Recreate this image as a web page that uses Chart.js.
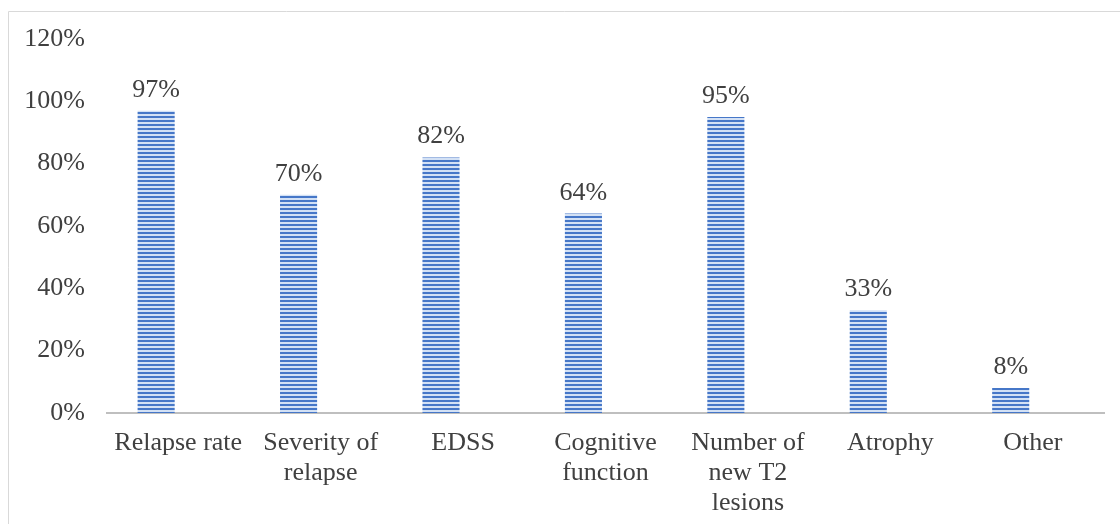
<!DOCTYPE html>
<html>
<head>
<meta charset="utf-8">
<script src="https://cdn.jsdelivr.net/npm/chart.js@4/dist/chart.umd.min.js"></script>
<style>
  html, body { margin: 0; padding: 0; background: #ffffff; }
  #wrap { position: relative; width: 1120px; height: 524px; }
  canvas { display: block; }
</style>
</head>
<body>
<div id="wrap"><canvas id="c" width="1120" height="524"></canvas></div>
<script>
// Outcome measures and share of respondents choosing each
const categories = [
  'Relapse rate',
  ['Severity of', 'relapse'],
  'EDSS',
  ['Cognitive', 'function'],
  ['Number of', 'new T2', 'lesions'],
  'Atrophy',
  'Other'
];
const shares = [97, 70, 82, 64, 95, 33, 8];
const yTicks = [0, 20, 40, 60, 80, 100, 120];

const FONT = "'Liberation Serif', 'Times New Roman', serif";
const TEXT = '#404040';

// Horizontal pinstripe fill for the bars
function stripeFill() {
  const p = document.createElement('canvas');
  p.width = 8; p.height = 4;
  const g = p.getContext('2d');
  g.fillStyle = '#d3e1f5';
  g.fillRect(0, 0, 8, 4);
  g.fillStyle = '#4677c8';
  g.fillRect(0, 0, 8, 2);
  return g.createPattern(p, 'repeat');
}

// Light frame around the chart
const framePlugin = {
  id: 'frame',
  beforeDraw(chart) {
    const ctx = chart.ctx;
    ctx.save();
    ctx.strokeStyle = '#d9d9d9';
    ctx.lineWidth = 1;
    ctx.beginPath();
    ctx.moveTo(8.5, 524);
    ctx.lineTo(8.5, 11.5);
    ctx.lineTo(1120, 11.5);
    ctx.stroke();
    ctx.restore();
  }
};

// Percentage labels above each bar
const valueLabels = {
  id: 'valueLabels',
  afterDatasetsDraw(chart) {
    const ctx = chart.ctx;
    const meta = chart.getDatasetMeta(0);
    ctx.save();
    ctx.font = '26px ' + FONT;
    ctx.fillStyle = TEXT;
    ctx.textAlign = 'center';
    ctx.textBaseline = 'alphabetic';
    meta.data.forEach((bar, i) => {
      ctx.fillText(shares[i] + '%', bar.x, bar.y - 14);
    });
    ctx.restore();
  }
};

new Chart(document.getElementById('c'), {
  type: 'bar',
  data: {
    labels: categories,
    datasets: [
      {
        data: shares,
        backgroundColor: stripeFill(),
        borderWidth: 0,
        categoryPercentage: 0.62,
        barPercentage: 0.84
      },
      {
        data: shares.map(() => null),
        backgroundColor: 'transparent',
        categoryPercentage: 0.62,
        barPercentage: 0.84
      }
    ]
  },
  options: {
    responsive: false,
    animation: false,
    events: [],
    layout: { padding: { top: 39, right: 16, bottom: 0, left: 0 } },
    plugins: {
      legend: { display: false },
      tooltip: { enabled: false },
      title: { display: false }
    },
    scales: {
      x: {
        grid: { display: false, drawTicks: false },
        border: { display: true, color: '#bfbfbf', width: 2 },
        ticks: {
          color: TEXT,
          font: { family: FONT, size: 26, lineHeight: 1.15 },
          padding: 15,
          maxRotation: 0,
          autoSkip: false
        },
        afterFit(scale) { scale.height = 111; }
      },
      y: {
        min: 0,
        max: 120,
        afterBuildTicks(scale) { scale.ticks = yTicks.map(v => ({ value: v })); },
        grid: { display: false, drawTicks: false },
        border: { display: false },
        ticks: {
          color: TEXT,
          font: { family: FONT, size: 26 },
          padding: 22,
          callback: v => v + '%'
        },
        afterFit(scale) { scale.width = 107; }
      }
    }
  },
  plugins: [framePlugin, valueLabels]
});
</script>
</body>
</html>
